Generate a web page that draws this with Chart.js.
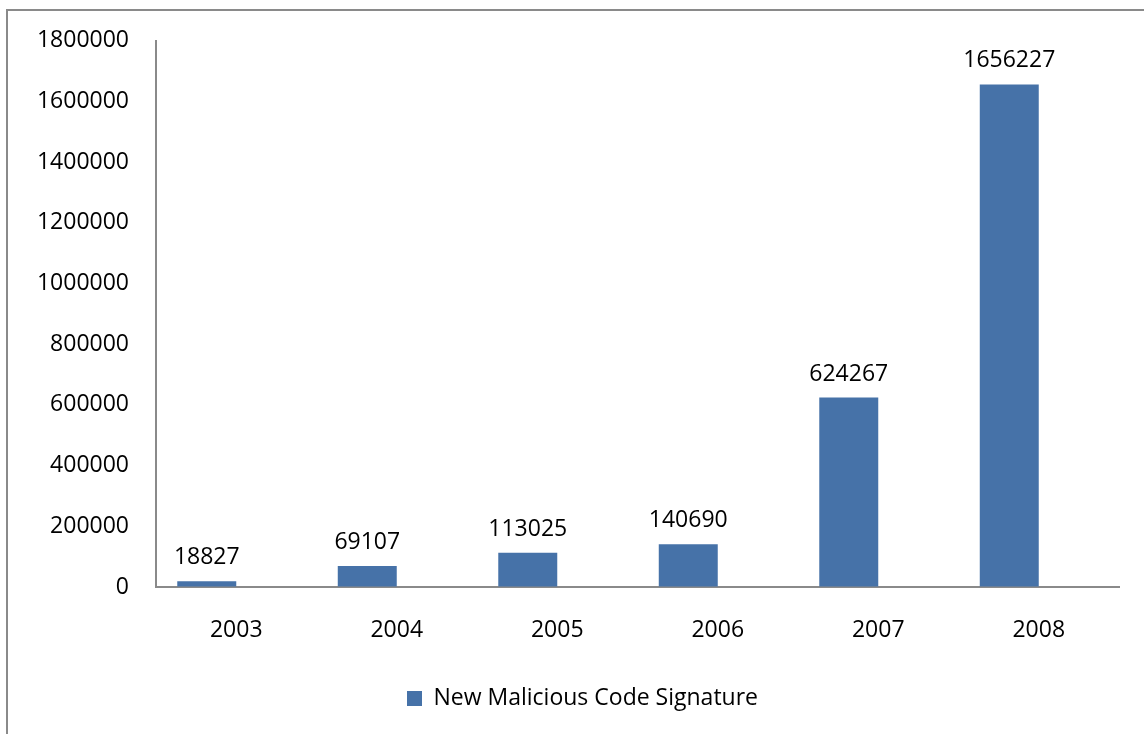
<!DOCTYPE html>
<html>
<head>
<meta charset="utf-8">
<script src="https://cdn.jsdelivr.net/npm/chart.js@4"></script>
<style>
  body { margin: 0; background: #fff; overflow: hidden; }
  #frame { position: absolute; left: 6px; top: 9px; width: 1400px; height: 1000px; border: 2px solid #8a8a8a; }
  #wrap { position: absolute; left: 0; top: 0; width: 1144px; height: 734px; }
</style>
</head>
<body>
<div id="frame"></div>
<div id="wrap"><canvas id="chart1" width="1144" height="734"></canvas></div>
<script>
let years = ['2003', '2004', '2005', '2006', '2007', '2008']
let signatures = [18827, 69107, 113025, 140690, 624267, 1656227]
let emptySeries = [null, null, null, null, null, null]
let barColor = '#4672a8'
let fontFamily = "'Open Sans', sans-serif"
let fontSize = 23

// value labels over each bar
let valueLabels = {
    id: 'valueLabels',
    afterDatasetsDraw(chart) {
        let ctx = chart.ctx;
        let meta = chart.getDatasetMeta(0);
        ctx.save();
        ctx.font = fontSize + 'px ' + fontFamily;
        ctx.fillStyle = '#000';
        ctx.textAlign = 'center';
        ctx.textBaseline = 'bottom';
        meta.data.forEach((bar, i) => {
            ctx.fillText(String(signatures[i]), bar.x, bar.y - 12);
        });
        ctx.restore();
    }
};

// legend sits a bit right of the canvas centre
let legendShift = {
    id: 'legendShift',
    afterLayout(chart) {
        chart.legend.left += 23;
        chart.legend.right += 23;
    }
};

let ctx1 = document.getElementById('chart1').getContext('2d');
let chart = new Chart(ctx1, {
    type: 'bar',
    data: {
        labels: years,
        datasets: [{
            label: 'New Malicious Code Signature',
            backgroundColor: barColor,
            data: signatures
        }, {
            label: '',
            backgroundColor: 'transparent',
            data: emptySeries
        }]
    },
    options: {
        responsive: false,
        animation: false,
        layout: { padding: { left: 0, top: 40, right: 25, bottom: 14 } },
        categoryPercentage: 0.735,
        barPercentage: 1.0,
        plugins: {
            tooltip: { enabled: false },
            legend: {
                position: 'bottom',
                labels: {
                    font: { family: fontFamily, size: fontSize },
                    color: '#000',
                    boxWidth: 15,
                    boxHeight: 15,
                    padding: 10,
                    filter: item => item.datasetIndex === 0
                }
            }
        },
        scales: {
            x: {
                grid: { drawOnChartArea: false, drawTicks: false },
                border: { color: '#8a8a8a', width: 2 },
                ticks: { font: { family: fontFamily, size: fontSize }, color: '#000', padding: 30 },
                afterFit: s => { s.height = 90 }
            },
            y: {
                min: 0,
                max: 1800000,
                grid: { drawOnChartArea: false, drawTicks: false },
                border: { color: '#8a8a8a', width: 2 },
                ticks: {
                    stepSize: 200000,
                    font: { family: fontFamily, size: fontSize },
                    color: '#000',
                    padding: 27,
                    callback: v => String(v)
                },
                afterFit: s => { s.width = 156 }
            }
        }
    },
    plugins: [valueLabels, legendShift]
});
</script>
</body>
</html>
